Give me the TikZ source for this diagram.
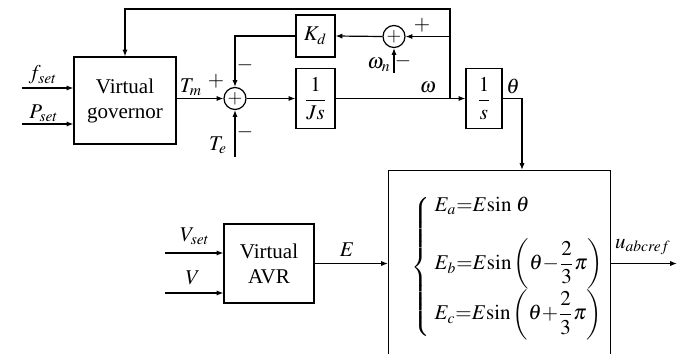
\documentclass[tikz,border=0pt]{standalone}
\usepackage{amsmath}
\usepackage{mathptmx}
\usepackage[no-math]{fontspec}
\setmainfont{Liberation Serif}
\usetikzlibrary{arrows.meta,positioning}
\tikzset{blk/.style={draw,line width=0.6pt,align=center,inner sep=0pt},
 sumnode/.style={draw,circle,line width=0.6pt,minimum size=11pt,inner sep=0pt,
  font=\fontsize{9.5}{10}\selectfont},
 sig/.style={-{Latex[length=3.4pt,width=2.6pt]},line width=0.6pt},
 wire/.style={line width=0.6pt},
 lbl/.style={inner sep=0pt}}

\begin{document}
\begin{tikzpicture}[x=0.5pt,y=-0.5pt,font=\fontsize{10.5}{12.5}\selectfont]
\useasboundingbox (0,0) rectangle (687,354);
% blocks
\node[blk,minimum width=51pt,minimum height=43.5pt] (gov) at (125,100.5) {Virtual\\governor};
\node[sumnode] (sum1) at (235,98.5) {$+$};
\node[blk,minimum width=19.5pt,minimum height=21pt] (kd) at (315.5,36) {$K_d$};
\node[blk,minimum width=19.5pt,minimum height=30pt] (js) at (315.5,98.5) {$\dfrac{1}{Js}$};
\node[sumnode] (sum2) at (394,36.5) {$+$};
\node[blk,minimum width=18pt,minimum height=30pt] (s) at (484,98.5) {$\dfrac{1}{s}$};
\node[blk,minimum width=45pt,minimum height=39.5pt] (avr) at (269,263.5) {Virtual\\AVR};
\node[blk,minimum width=111pt,minimum height=105pt,anchor=north west] (big) at (388,170) {};
\node[lbl,anchor=west] (eqs) at (411,267)
 {$\left\{\begin{array}{@{\;}l@{}}
  E_a{=}E\mathrm{sin}\;\theta\\[10pt]
  E_b{=}E\mathrm{sin}\left(\theta{-}\dfrac{2}{3}\pi\right)\\[6pt]
  E_c{=}E\mathrm{sin}\left(\theta{+}\dfrac{2}{3}\pi\right)
  \end{array}\right.$};
% free ends
\coordinate (fin) at (22,88);
\coordinate (pin) at (22,124);
\coordinate (tein) at (235,157);
\coordinate (wnin) at (394,73);
\coordinate (br) at (450,98.5);
\coordinate (top) at (450,9);
\coordinate (thin) at (522,170);
\coordinate (vsetin) at (165,253);
\coordinate (vin) at (165,293);
\coordinate (uout) at (677,263.5);
% connectors
\draw[sig] (fin) -- (fin -| gov.west);
\draw[sig] (pin) -- (pin -| gov.west);
\draw[sig] (gov.east |- sum1) -- (sum1.west);
\draw[sig] (sum1.east) -- (js.west);
\draw[sig] (js.east) -- (s.west);
\draw[sig] (br) -- (top) -| (gov.north);
\draw[sig] (br |- sum2) -- (sum2.east);
\draw[sig] (sum2.west) -- (kd.east);
\draw[sig] (kd.west) -| (sum1.north);
\draw[sig] (tein) -- (sum1.south);
\draw[sig] (wnin) -- (sum2.south);
\draw[sig] (s.east) -| (thin);
\draw[sig] (vsetin) -- (vsetin -| avr.west);
\draw[sig] (vin) -- (vin -| avr.west);
\draw[sig] (avr.east) -- (avr.east -| big.west);
\draw[sig] (big.east |- avr.east) -- (uout);
% labels
\node[lbl] (fset) at (43,75) {$f_{set}$};
\node[lbl] (pset) at (44,113) {$P_{set}$};
\node[lbl] (tm) at (191,87) {$T_m$};
\node[lbl] (tmp) at (216,81) {$+$};
\node[lbl] (kdm) at (245,65) {$-$};
\node[lbl] (tem) at (245,132) {$-$};
\node[lbl] (te) at (218,145) {$T_e$};
\node[lbl] (om) at (428,87) {$\omega$};
\node[lbl] (omp) at (422,25) {$+$};
\node[lbl] (omn) at (379,65) {$\omega_n$};
\node[lbl] (omnm) at (403,61) {$-$};
\node[lbl] (th) at (513,86) {$\theta$};
\node[lbl] (vset) at (195,236) {$V_{set}$};
\node[lbl] (vv) at (193,278) {$V$};
\node[lbl] (ee) at (347,250) {$E$};
\node[lbl] (uref) at (643,247) {$u_{abcref}$};
\end{tikzpicture}
\end{document}
